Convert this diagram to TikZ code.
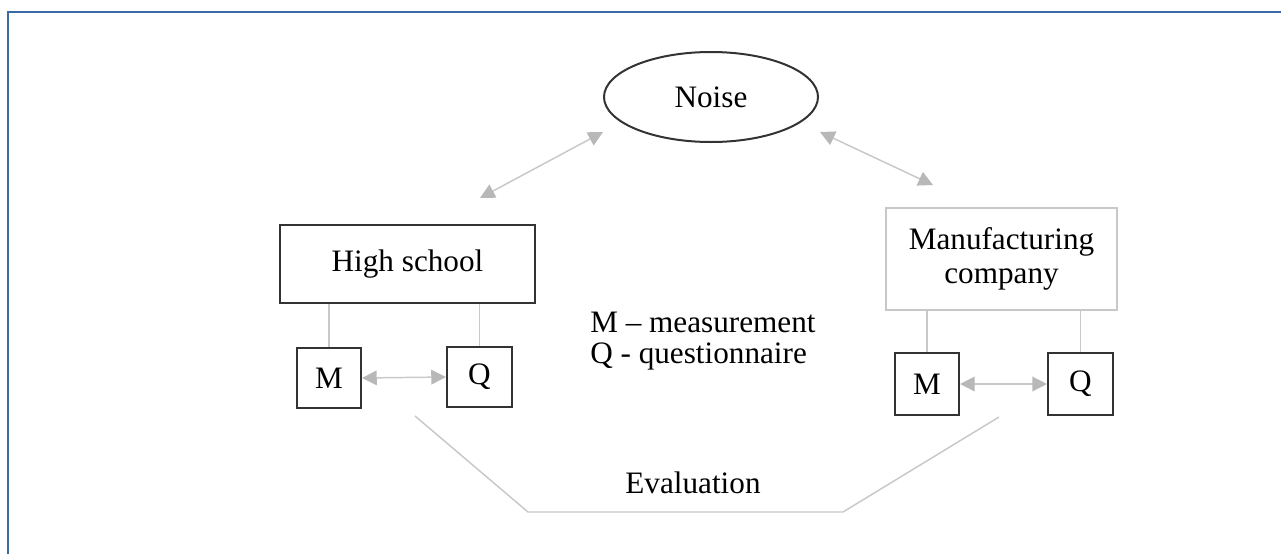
\documentclass[tikz,border=0pt]{standalone}
\usepackage{fontspec}
\setmainfont{Liberation Serif}
\usetikzlibrary{arrows.meta,shapes.geometric}
\definecolor{frameblue}{HTML}{3A6BA5}
\definecolor{linegray}{HTML}{C8C8C8}
\definecolor{tipgray}{HTML}{B8B8B8}
\definecolor{boxdark}{HTML}{333333}
\tikzset{
  lbl/.style={font=\fontsize{23.4pt}{27pt}\selectfont, text=black},
  darkbox/.style={draw=boxdark, line width=1.6pt, inner sep=0pt},
  lightbox/.style={draw=linegray, line width=1.3pt, inner sep=0pt},
  gline/.style={draw=linegray, line width=1.1pt},
  garrow/.style={gline, {Triangle[length=11pt,width=11pt,fill=tipgray,color=tipgray]}-{Triangle[length=11pt,width=11pt,fill=tipgray,color=tipgray]}},
}
\begin{document}
\begin{tikzpicture}[x=0.75pt,y=-0.75pt]
\useasboundingbox (0,0) rectangle (1281,554);
% frame
\draw[frameblue, line width=1.6pt] (8,554) -- (8,12) -- (1281,12);
% noise
\node[ellipse, draw=boxdark, line width=1.5pt, minimum width=214*0.75pt, minimum height=90*0.75pt, inner sep=0pt, lbl] (noise) at (711,97) {Noise};
% high school
\node[darkbox, minimum width=255*0.75pt, minimum height=78*0.75pt, lbl] (hs) at (407.5,264) {High school};
\node[darkbox, minimum width=64*0.75pt, minimum height=60*0.75pt, lbl] (m1) at (329,378) {M};
\node[darkbox, minimum width=65*0.75pt, minimum height=60*0.75pt, lbl] (q1) at (479.5,377) {Q};
% manufacturing
\node[lightbox, minimum width=231*0.75pt, minimum height=102*0.75pt, lbl, align=center] (mc) at (1001.5,259) {Manufacturing\\[-1pt]company};
\node[darkbox, minimum width=64*0.75pt, minimum height=62*0.75pt, lbl] (m2) at (927,384) {M};
\node[darkbox, minimum width=65*0.75pt, minimum height=62*0.75pt, lbl] (q2) at (1080.5,384) {Q};
% legend
\node[lbl, anchor=west, align=left, inner sep=0pt] (legend) at (590,341) {M – measurement\\[-3.75pt]Q - questionnaire};
% evaluation
\node[lbl, inner sep=0pt] (eval) at (693,483) {Evaluation};
% coordinates
\coordinate (na) at (603,132);
\coordinate (ha) at (480,198);
\coordinate (nb) at (820,132);
\coordinate (mb) at (933,185);
\coordinate (e1) at (415,416);
\coordinate (e2) at (528,512);
\coordinate (e3) at (843,512);
\coordinate (e4) at (999,417);
% connectors
\draw[garrow] (ha) -- (na);
\draw[garrow] (nb) -- (mb);
\draw[gline] (m1.north |- hs.south) -- (m1.north);
\draw[gline] (q1.north |- hs.south) -- (q1.north);
\draw[gline] (m2.north |- mc.south) -- (m2.north);
\draw[gline] (q2.north |- mc.south) -- (q2.north);
\draw[garrow] (m1.east) -- (q1.west);
\draw[garrow] (m2.east) -- (q2.west);
\draw[gline] (e1) -- (e2) -- (e3) -- (e4);
\end{tikzpicture}
\end{document}
